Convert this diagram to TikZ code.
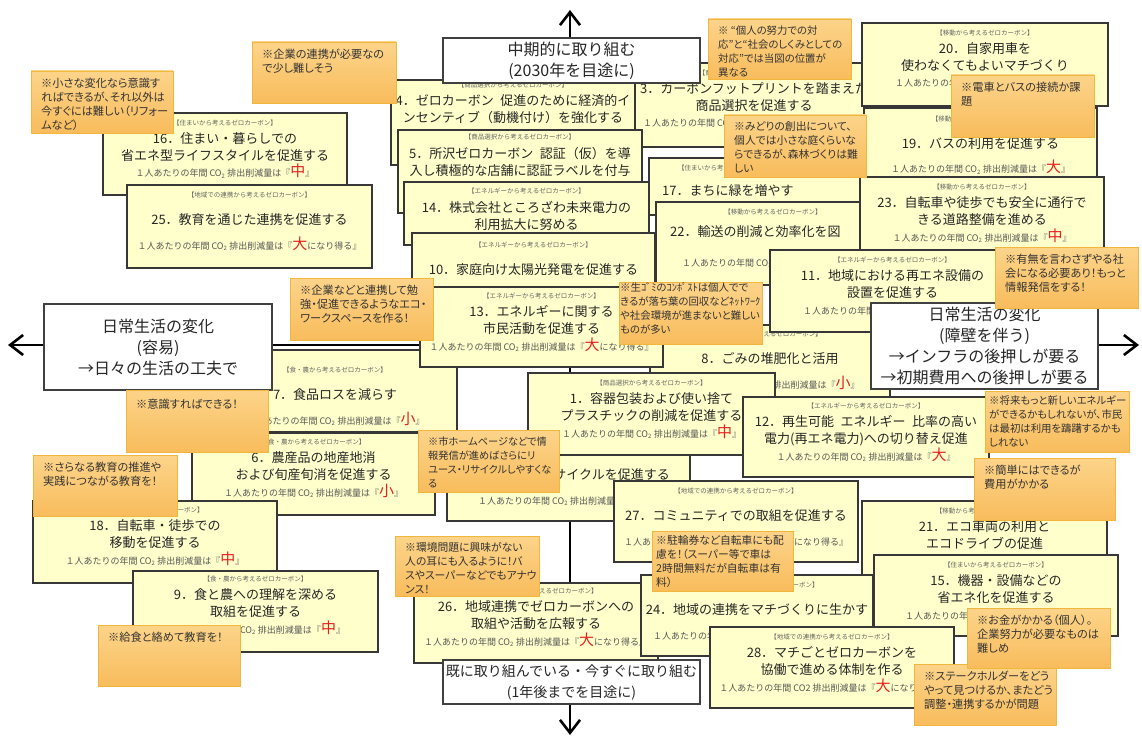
\documentclass[tikz,border=0pt]{standalone}
\usepackage{fontspec}
\setmainfont{Noto Sans CJK JP}
\newfontfamily\notefont[RawFeature=+palt]{Noto Sans CJK JP}
\usetikzlibrary{arrows.meta}
\definecolor{cardyellow}{RGB}{255,255,204}
\definecolor{cardline}{RGB}{55,55,55}
\definecolor{notetop}{RGB}{252,212,138}
\definecolor{notebot}{RGB}{248,188,92}
\definecolor{noteline}{RGB}{242,182,60}
\definecolor{sizered}{RGB}{232,30,30}
\definecolor{cattxt}{RGB}{100,100,100}
\definecolor{co2txt}{RGB}{85,85,85}
\pgfdeclarelayer{background}
\pgfsetlayers{background,main}
\newcommand\rd[1]{{\fontsize{15}{15}\selectfont\color{sizered}#1}}
\newcommand\cotwo[1]{１人あたりの年間 CO\textsubscript{2} 排出削減量は『#1』}
\newcommand\tgap{\hspace{.5em}}
\newcommand\mkcard[9]{%
  \node[cardbox,minimum width={#4-#2},minimum height={#5-#3}] (#1) at ({(#2+#4)/2},{(#3+#5)/2}) {};
  \node[cattext] (#1c) at ([yshift={-12.5-(#9)}]#1.north) {#6};
  \node[titletext] (#1t) at ([yshift={-34.5-(#9)}]#1.north) {#7};
  \node[co2text] (#1e) at ([yshift={-64-(#9)}]#1.north) {#8};
}
\newcommand\mknote[7][]{%
  \node[notebox,minimum width={#5-#3},minimum height={#6-#4}] (#2) at ({(#3+#5)/2},{(#4+#6)/2}) {};
  \node[notetext,#1] (#2t) at ([xshift=10pt,yshift=-6.5pt]#2.north west) {#7};
}
\newcommand\mklab[7][]{%
  \node[labelbox,minimum width={#5-#3},minimum height={#6-#4}] (#2) at ({(#3+#5)/2},{(#4+#6)/2}) {};
  \node[labeltext,#1] (#2t) at (#2.center) {#7};
}
\begin{document}
\begin{tikzpicture}[x=1pt,y=-1pt,
  cardbox/.style={draw=cardline,line width=1.2pt,fill=cardyellow,inner sep=0pt,outer sep=0pt},
  cattext/.style={font=\fontsize{6.5}{7}\selectfont,text=cattxt,inner sep=0pt,anchor=base},
  titletext/.style={font=\fontsize{13}{17}\selectfont,text=black!85,align=center,inner sep=0pt},
  co2text/.style={font=\fontsize{9}{10}\selectfont,text=co2txt,inner sep=0pt,anchor=base},
  notebox/.style={draw=noteline,line width=0.9pt,top color=notetop,bottom color=notebot,inner sep=0pt,outer sep=0pt},
  notetext/.style={font=\notefont\fontsize{11.2}{14}\selectfont,text=black!80,align=left,inner sep=0pt,anchor=north west},
  smallnote/.style={font=\notefont\fontsize{10.8}{14}\selectfont},
  labelbox/.style={draw=black!75,line width=1.3pt,fill=white,inner sep=0pt,outer sep=0pt},
  labeltext/.style={font=\fontsize{16}{21}\selectfont,text=black!85,align=center,inner sep=0pt},
  axisline/.style={line width=2.6pt,black},
  axisarrow/.style={axisline,-{Straight Barb[length=13pt,width=20pt]}}
]
\useasboundingbox (0,0) rectangle (1142,738);
\coordinate (ttip) at (570,10);
\coordinate (btip) at (570,735);
\coordinate (ltip) at (8,345);
\coordinate (rtip) at (1139,345);

% ---------- cards ----------
\mkcard{c16}{103}{113}{347}{195}{【住まいから考えるゼロカーボン】}{16．住まい・暮らしでの\\省エネ型ライフスタイルを促進する}{\cotwo{\rd{中}}}{0}
\mkcard{c25}{127}{185}{372}{268}{【地域での連携から考えるゼロカーボン】}{25．教育を通じた連携を促進する}{\cotwo{\rd{大}になり得る}}{0}
\mkcard{c3}{635}{63}{873}{147}{【商品選択から考えるゼロカーボン】}{3．カーボンフットプリントを踏まえた\\商品選択を促進する}{}{0}
\node[co2text,anchor=base west] (c3x) at ([xshift=8pt,yshift=-64pt]c3.north west) {１人あたりの年間 CO};
\mkcard{c4}{391}{80}{635}{165}{【商品選択から考えるゼロカーボン】}{4．ゼロカーボン\tgap 促進のために経済的イ\\ンセンティブ（動機付け）を強化する}{}{-5}
\mkcard{c5}{398}{130}{642}{213}{【商品選択から考えるゼロカーボン】}{5．所沢ゼロカーボン\tgap 認証（仮）を導\\入し積極的な店舗に認証ラベルを付与}{}{-3}
\mkcard{c17}{649}{158}{870}{215}{}{}{}{0}
\node[cattext,anchor=base west] (c17x) at ([xshift=29pt,yshift=-12.5pt]c17.north west) {【住まいから考えるゼロカーボン】};
\node[titletext,anchor=west] (c17y) at ([xshift=13pt,yshift=-33pt]c17.north west) {17．まちに緑を増やす};
\mkcard{c14}{404}{182}{649}{245}{【エネルギーから考えるゼロカーボン】}{14．株式会社ところざわ未来電力の\\利用拡大に努める}{}{-1}
\mkcard{c22}{656}{202}{890}{285}{【移動から考えるゼロカーボン】}{}{}{0}
\node[titletext,anchor=west] (c22y) at ([xshift=14pt,yshift=-30pt]c22.north west) {22．輸送の削減と効率化を図};
\node[co2text,anchor=base west] (c22x) at ([xshift=26pt,yshift=-64pt]c22.north west) {１人あたりの年間 CO\textsubscript{2} 排出};
\mkcard{c10}{412}{233}{655}{292}{【エネルギーから考えるゼロカーボン】}{10．家庭向け太陽光発電を促進する}{}{2}
\mkcard{c20}{862}{23}{1108}{106}{【移動から考えるゼロカーボン】}{20．自家用車を\\使わなくてもよいマチづくり}{}{0}
\node[co2text,anchor=base west] (c20x) at ([xshift=33pt,yshift=-64pt]c20.north west) {１人あたりの年間};
\mkcard{c19}{864}{108}{1097}{177}{【移動から考えるゼロカーボン】}{19．バスの利用を促進する}{\cotwo{\rd{大}}}{1}
\mkcard{c23}{860}{177}{1104}{250}{【移動から考えるゼロカーボン】}{23．自転車や徒歩でも安全に通行で\\きる道路整備を進める}{\cotwo{\rd{中}}}{0}
\mkcard{c8}{650}{325}{890}{405}{【住まいから考えるゼロカーボン】}{8．ごみの堆肥化と活用}{\cotwo{\rd{小}}}{-1}
\mkcard{c11}{770}{250}{1015}{332}{【エネルギーから考えるゼロカーボン】}{11．地域における再エネ設備の\\設置を促進する}{}{0}
\node[co2text,anchor=base west] (c11x) at ([xshift=33pt,yshift=-64pt]c11.north west) {１人あたりの年間 CO\textsubscript{2}};
\mkcard{c7}{213}{350}{457}{432}{【食・農から考えるゼロカーボン】}{7．食品ロスを減らす}{\cotwo{\rd{小}}}{10}
\mkcard{c13}{420}{287}{663}{367}{【エネルギーから考えるゼロカーボン】}{13．エネルギーに関する\\市民活動を促進する}{\cotwo{\rd{大}になり得る}}{-1}
\mkcard{c1}{528}{373}{775}{455}{【商品選択から考えるゼロカーボン】}{1．容器包装および使い捨て\\プラスチックの削減を促進する}{\cotwo{\rd{中}}}{0}
\mkcard{c12}{743}{397}{989}{477}{【エネルギーから考えるゼロカーボン】}{12．再生可能\tgap エネルギー\tgap 比率の高い\\電力(再エネ電力)への切り替え促進}{\cotwo{\rd{大}}}{-1}
\mkcard{crec}{447}{455}{690}{521}{}{}{}{0}
\node[titletext,anchor=east] (crecy) at ([xshift=-20pt,yshift=-20pt]crec.north east) {サイクルを促進する};
\node[co2text,anchor=base west] (crecx) at ([xshift=31pt,yshift=-49.5pt]crec.north west) {１人あたりの年間 CO\textsubscript{2} 排出削減量};
\mkcard{c6}{192}{433}{435}{515}{【食・農から考えるゼロカーボン】}{6．農産品の地産地消\\および旬産旬消を促進する}{\cotwo{\rd{小}}}{-1}
\mkcard{c18}{33}{501}{277}{583}{【移動から考えるゼロカーボン】}{18．自転車・徒歩での\\移動を促進する}{\cotwo{\rd{中}}}{-1}
\mkcard{c9}{133}{571}{378}{652}{【食・農から考えるゼロカーボン】}{9．食と農への理解を深める\\取組を促進する}{\cotwo{\rd{中}}}{-2}
\mkcard{c27}{614}{481}{858}{562}{【地域での連携から考えるゼロカーボン】}{27．コミュニティでの取組を促進する}{\cotwo{\rd{大}になり得る}}{0}
\mkcard{c21}{862}{501}{1107}{583}{【移動から考えるゼロカーボン】}{21．エコ車両の利用と\\エコドライブの促進}{}{0}
\mkcard{c26}{414}{583}{658}{663}{【地域での連携から考えるゼロカーボン】}{26．地域連携でゼロカーボンへの\\取組や活動を広報する}{\cotwo{\rd{大}になり得る}}{-2}
\mkcard{c24}{641}{575}{873}{656}{【地域での連携から考えるゼロカーボン】}{24．地域の連携をマチづくりに生かす}{}{0}
\node[co2text,anchor=base west] (c24x) at ([xshift=12pt,yshift=-64pt]c24.north west) {１人あたりの年間};
\mkcard{c15}{874}{555}{1118}{636}{【住まいから考えるゼロカーボン】}{15．機器・設備などの\\省エネ化を促進する}{}{0}
\node[co2text,anchor=base west] (c15x) at ([xshift=31pt,yshift=-64pt]c15.north west) {１人あたりの年間};
\mkcard{c28}{710}{627}{954}{708}{【地域での連携から考えるゼロカーボン】}{28．マチごとゼロカーボンを\\協働で進める体制を作る}{１人あたりの年間 CO2 排出削減量は『\rd{大}になり得る』}{0}

% ---------- axis labels ----------
\mklab{toplab}{443}{38}{700}{83}{中期的に取り組む\\(2030年を目途に)}
\mklab[font=\fontsize{14}{21}\selectfont]{botlab}{443}{660}{700}{704}{既に取り組んでいる・今すぐに取り組む\\(1年後までを目途に)}
\mklab{leftlab}{44}{304}{272}{390}{日常生活の変化\\(容易)\\→日々の生活の工夫で}
\mklab{rightlab}{871}{303}{1098}{389}{日常生活の変化\\(障壁を伴う)\\→インフラの後押しが要る\hspace*{1em}\\→初期費用への後押しが要る}

% ---------- notes ----------
\mknote{n1}{31}{71}{173}{133}{※小さな変化なら意識す\\ればできるが、それ以外は\\今すぐには難しい（リフォー\\ムなど）}
\mknote{n2}{252}{42}{396}{103}{※企業の連携が必要なの\\で少し難しそう}
\mknote[font=\notefont\fontsize{10.4}{14}\selectfont]{n3}{708}{19}{851}{79}{※ “個人の努力での対\\応”と“社会のしくみとしての\\対応”では当図の位置が\\異なる}
\mknote[smallnote]{n4}{724}{115}{866}{177}{※みどりの創出について、\\個人では小さな庭くらいな\\らできるが、森林づくりは難\\しい}
\mknote{n5}{951}{75}{1094}{137}{※電車とバスの接続か課\\題}
\mknote{n6}{995}{247}{1138}{308}{※有無を言わさずやる社\\会になる必要あり！もっと\\情報発信をする！}
\mknote[font=\notefont\fontsize{10.4}{14}\selectfont,xshift=-6pt,yshift=2pt]{n7}{985}{391}{1129}{452}{※将来もっと新しいエネルギー\\ができるかもしれないが、市民\\は最初は利用を躊躇するかも\\しれない}
\mknote{n8}{974}{458}{1115}{520}{※簡単にはできるが\\費用がかかる}
\mknote[smallnote,xshift=-6pt,yshift=2pt]{n9}{652}{531}{793}{591}{※駐輪券など自転車にも配\\慮を！（スーパー等で車は\\2時間無料だが自転車は有\\料）}
\mknote{n10}{914}{664}{1056}{725}{※ステークホルダーをどう\\やって見つけるか、またどう\\調整・連携するかが問題}
\mknote{n11}{967}{608}{1110}{668}{※お金がかかる（個人）。\\企業努力が必要なものは\\難しめ}
\mknote[yshift=-2pt]{n12}{126}{390}{268}{452}{※意識すればできる！}
\mknote{n13}{33}{455}{177}{516}{※さらなる教育の推進や\\実践につながる教育を！}
\mknote{n14}{98}{625}{240}{686}{※給食と絡めて教育を！}
\mknote{n15}{290}{278}{433}{340}{※企業などと連携して勉\\強・促進できるようなエコ・\\ワークスペースを作る！}
\mknote[font=\notefont\fontsize{10.4}{14}\selectfont,xshift=-9pt,yshift=6pt]{n16}{619}{282}{762}{344}{※生ｺﾞﾐのｺﾝﾎﾟｽﾄは個人でで\\きるが落ち葉の回収などﾈｯﾄﾜｰｸ\\や社会環境が進まないと難しい\\ものが多い}
\mknote[font=\notefont\fontsize{10.2}{14}\selectfont]{n17}{418}{430}{559}{492}{※市ホームページなどで情\\報発信が進めばさらにリ\\ユース・リサイクルしやすくな\\る}
\mknote[smallnote]{n18}{395}{536}{539}{596}{※環境問題に興味がない\\人の耳にも入るように！バ\\スやスーパーなどでもアナウ\\ンス！}

% ---------- axes ----------
\begin{pgfonlayer}{background}
  \fill[white] (0,0) rectangle (1142,738);
  \draw[axisline] (toplab.south -| ttip) -- (botlab.north -| btip);
  \draw[axisline] (leftlab.east |- ltip) -- (rightlab.west |- rtip);
  \draw[axisarrow] (toplab.north -| ttip) -- (ttip);
  \draw[axisarrow] (botlab.south -| btip) -- (btip);
  \draw[axisarrow] (leftlab.west |- ltip) -- (ltip);
  \draw[axisarrow] (rightlab.east |- rtip) -- (rtip);
\end{pgfonlayer}
\end{tikzpicture}
\end{document}
